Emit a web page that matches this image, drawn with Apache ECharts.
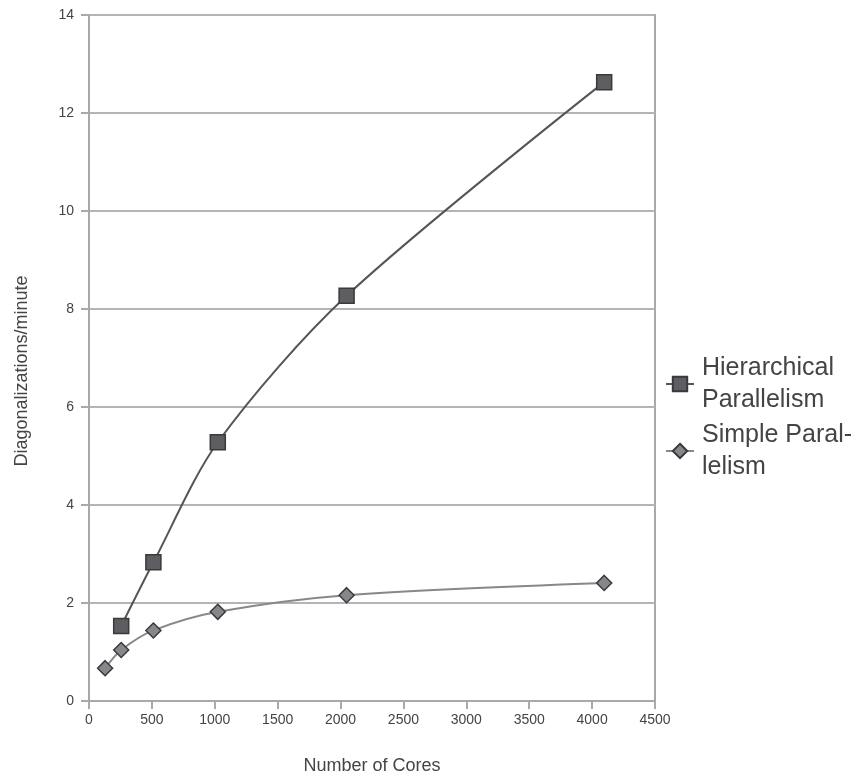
<!DOCTYPE html>
<html>
<head>
<meta charset="utf-8">
<script src="https://cdn.jsdelivr.net/npm/echarts@6/dist/echarts.min.js"></script>
<style>html,body{margin:0;padding:0;background:#fff}#c{width:860px;height:781px}</style>
</head>
<body>
<div id="c"></div>
<script>
const seriesNames = ['Hierarchical Parallelism', 'Simple Parallelism'];
const legendLabels = ['Hierarchical\nParallelism', 'Simple Paral-\nlelism'];
const hierCores = [256, 512, 1024, 2048, 4096];
const hierValues = [1.53, 2.83, 5.28, 8.27, 12.63];
const simpleCores = [128, 256, 512, 1024, 2048, 4096];
const simpleValues = [0.67, 1.04, 1.44, 1.82, 2.16, 2.41];
const xTicks = [0, 500, 1000, 1500, 2000, 2500, 3000, 3500, 4000, 4500];
const yTicks = [0, 2, 4, 6, 8, 10, 12, 14];

const font = '"Liberation Sans", Arial, sans-serif';
const chart = echarts.init(document.getElementById('c'), null, {renderer: 'canvas'});
const legendMap = {};
seriesNames.forEach((n, i) => legendMap[n] = legendLabels[i]);

chart.setOption({
  animation: false,
  backgroundColor: '#ffffff',
  grid: {left: 89, right: 205, top: 15, bottom: 80, show: true, borderColor: '#a9a9ad', borderWidth: 2, backgroundColor: 'transparent'},
  legend: {
    orient: 'vertical',
    left: 665,
    top: 336,
    padding: 0,
    itemWidth: 28,
    itemHeight: 18,
    itemGap: -29,
    data: seriesNames,
    formatter: n => legendMap[n],
    textStyle: {fontFamily: font, fontSize: 25, color: '#444', lineHeight: 32, padding: [32, 0, 0, 3]}
  },
  xAxis: {
    type: 'value',
    min: xTicks[0], max: xTicks[xTicks.length - 1], interval: 500,
    name: 'Number of Cores',
    nameLocation: 'middle',
    nameGap: 56,
    nameTextStyle: {fontFamily: font, fontSize: 18, color: '#444'},
    axisLine: {show: true, lineStyle: {color: '#a9a9ad', width: 2}},
    axisTick: {show: true, length: 8, lineStyle: {color: '#a9a9ad', width: 2}},
    axisLabel: {fontFamily: font, fontSize: 14, color: '#444', margin: 12, formatter: v => String(v)},
    splitLine: {show: false}
  },
  yAxis: {
    type: 'value',
    min: yTicks[0], max: yTicks[yTicks.length - 1], interval: 2,
    name: 'Diagonalizations/minute',
    nameLocation: 'middle',
    nameGap: 58,
    nameTextStyle: {fontFamily: font, fontSize: 18, color: '#444', padding: [0, 26, 0, 0]},
    axisLine: {show: true, lineStyle: {color: '#a9a9ad', width: 2}},
    axisTick: {show: true, length: 8, lineStyle: {color: '#a9a9ad', width: 2}},
    axisLabel: {fontFamily: font, fontSize: 14, color: '#444', margin: 15, formatter: v => String(v)},
    splitLine: {show: true, lineStyle: {color: '#b4b4b8', width: 2}}
  },
  series: [
    {
      name: seriesNames[0],
      type: 'line',
      data: hierCores.map((x, i) => [x, hierValues[i]]),
      smooth: 0.3,
      symbol: 'rect',
      symbolSize: 15,
      lineStyle: {color: '#555558', width: 2},
      itemStyle: {color: '#5e5e62', borderColor: '#3a3a3c', borderWidth: 1.5},
      z: 3
    },
    {
      name: seriesNames[1],
      type: 'line',
      data: simpleCores.map((x, i) => [x, simpleValues[i]]),
      smooth: 0.3,
      symbol: 'diamond',
      symbolSize: 15,
      lineStyle: {color: '#88888c', width: 2},
      itemStyle: {color: '#87878b', borderColor: '#3a3a3c', borderWidth: 1.5},
      z: 2
    }
  ]
});
</script>
</body>
</html>
